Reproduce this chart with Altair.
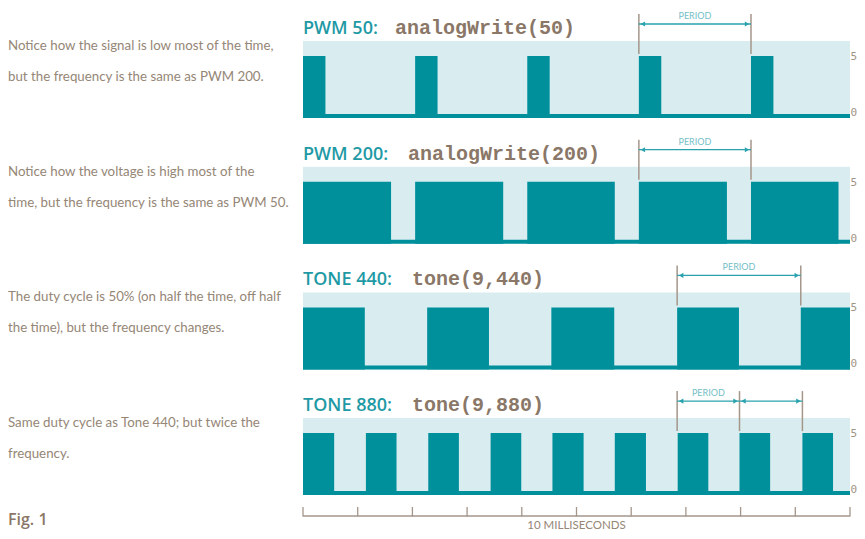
import altair as alt
import pandas as pd

# ---------------- data ----------------
LABELS = ["PWM 50:", "PWM 200:", "TONE 440:", "TONE 880:"]
CODES = ["analogWrite(50)", "analogWrite(200)", "tone(9,440)", "tone(9,880)"]
NOTES = [
    ["Notice how the signal is low most of the time,", "but the frequency is the same as PWM 200."],
    ["Notice how the voltage is high most of the", "time, but the frequency is the same as PWM 50."],
    ["The duty cycle is 50% (on half the time, off half", "the time), but the frequency changes."],
    ["Same duty cycle as Tone 440; but twice the", "frequency."],
]
# rising / falling edges of each square wave, in milliseconds
RISE_MS = [
    [0.00, 2.05, 4.10, 6.14, 8.19],
    [0.00, 2.05, 4.10, 6.14, 8.19],
    [0.00, 2.27, 4.54, 6.84, 9.10],
    [0.00, 1.15, 2.29, 3.43, 4.56, 5.70, 6.85, 7.98, 9.13],
]
FALL_MS = [
    [0.41, 2.46, 4.51, 6.55, 8.60],
    [1.61, 3.66, 5.70, 7.75, 9.79],
    [1.13, 3.40, 5.69, 7.97, 10.0],
    [0.57, 1.71, 2.85, 3.99, 5.13, 6.27, 7.41, 8.54, 9.69],
]
START_MS = 0.0
END_MS = 10.0
HIGH_V = 5
LOW_V = 0
PERIOD_MARKS_MS = [[6.14, 8.19], [6.14, 8.19], [6.84, 9.10], [6.84, 7.98, 9.13]]
PERIOD_TEXT = "PERIOD"
Y_TICK_LABELS = [("5", 5), ("0", 0)]
X_TICKS_MS = [0, 1, 2, 3, 4, 5, 6, 7, 8, 9, 10]
X_TITLE = "10 MILLISECONDS"
FIG_LABEL = "Fig. 1"

# ---------------- layout ----------------
W, H = 849, 523
X0_PX = 295.0          # plot x of t = 0 ms
PX_PER_MS = 54.7
PX_PER_V = 11.6
ZERO0_PX = 106.0       # plot y of 0 V in first panel
STEP_PX = 125.7        # vertical distance between panels
STEP_V = STEP_PX / PX_PER_V
BASE_PX = -4           # bottom of band / thick baseline below 0 V

def u(p, px_above_zero):
    return px_above_zero / PX_PER_V - p * STEP_V

x_scale = alt.Scale(domain=[-X0_PX / PX_PER_MS, (W - X0_PX) / PX_PER_MS], nice=False, zero=False)
y_scale = alt.Scale(domain=[(ZERO0_PX - H) / PX_PER_V, ZERO0_PX / PX_PER_V], nice=False, zero=False)

TEAL = "#00909c"
BAND = "#d9edf0"
BROWN = "#8a7767"
NOTE_C = "#958676"
TITLE_TEAL = "#1f9aa5"
RULE_C = "#a5968a"
ARROW_C = "#2aa2ad"
PERIOD_C = "#74c0c8"

def X(f):
    return alt.X(f, scale=x_scale, axis=None)

def Y(f):
    return alt.Y(f, scale=y_scale, axis=None)

# background bands
band_df = pd.DataFrame([
    {"p": p, "t0": START_MS, "t1": END_MS, "top": u(p, 73), "bot": u(p, BASE_PX)} for p in range(4)
])
bands = alt.Chart(band_df).mark_rect(color=BAND).encode(x=X("t0:Q"), x2="t1:Q", y=Y("top:Q"), y2="bot:Q")

# low level (thick baseline)
low_df = pd.DataFrame([
    {"p": p, "t0": START_MS, "t1": END_MS, "top": u(p, LOW_V * PX_PER_V), "bot": u(p, BASE_PX)} for p in range(4)
])
lows = alt.Chart(low_df).mark_rect(color=TEAL).encode(x=X("t0:Q"), x2="t1:Q", y=Y("top:Q"), y2="bot:Q")

# high pulses
pulse_rows = []
for p in range(4):
    for r, f in zip(RISE_MS[p], FALL_MS[p]):
        pulse_rows.append({"p": p, "t0": r, "t1": f, "top": u(p, HIGH_V * PX_PER_V), "bot": u(p, BASE_PX)})
pulse_df = pd.DataFrame(pulse_rows)
pulses = alt.Chart(pulse_df).mark_rect(color=TEAL).encode(x=X("t0:Q"), x2="t1:Q", y=Y("top:Q"), y2="bot:Q")

# period markers
mk_rows, ar_rows, pt_rows = [], [], []
for p in range(4):
    m = PERIOD_MARKS_MS[p]
    for t in m:
        mk_rows.append({"t": t, "y0": u(p, 60), "y1": u(p, 100)})
    for a, b in zip(m[:-1], m[1:]):
        ar_rows.append({"t0": a, "t1": b, "y": u(p, 90)})
    pt_rows.append({"t": (m[0] + m[1]) / 2, "y": u(p, 98), "txt": PERIOD_TEXT})
mk_df, ar_df, pt_df = pd.DataFrame(mk_rows), pd.DataFrame(ar_rows), pd.DataFrame(pt_rows)

marks = alt.Chart(mk_df).mark_rule(color=RULE_C, strokeWidth=1.5).encode(x=X("t:Q"), y=Y("y0:Q"), y2="y1:Q")
arrows = alt.Chart(ar_df).mark_rule(color=ARROW_C, strokeWidth=1.3).encode(x=X("t0:Q"), x2="t1:Q", y=Y("y:Q"))
heads_l = alt.Chart(ar_df).mark_point(shape="triangle-left", filled=True, size=26, color=ARROW_C,
                                      opacity=1, xOffset=4).encode(x=X("t0:Q"), y=Y("y:Q"))
heads_r = alt.Chart(ar_df).mark_point(shape="triangle-right", filled=True, size=26, color=ARROW_C,
                                      opacity=1, xOffset=-4).encode(x=X("t1:Q"), y=Y("y:Q"))
period_txt = alt.Chart(pt_df).mark_text(color=PERIOD_C, fontSize=9, font="Lato", baseline="middle").encode(
    x=X("t:Q"), y=Y("y:Q"), text="txt:N")

# titles
CODE_X_PX = [387, 400, 404, 404]
title_df = pd.DataFrame([{"p": p, "lab": LABELS[p], "code": CODES[p], "y": u(p, 80),
                          "cx": (CODE_X_PX[p] - X0_PX) / PX_PER_MS, "t": START_MS} for p in range(4)])
t_lab = alt.Chart(title_df).mark_text(color=TITLE_TEAL, fontSize=18, font="Open Sans", fontWeight=600,
                                      align="left", baseline="alphabetic").encode(
    x=X("t:Q"), y=Y("y:Q"), text="lab:N")
t_code = alt.Chart(title_df).mark_text(color=BROWN, fontSize=20, font="Liberation Mono", fontWeight="bold",
                                       align="left", baseline="alphabetic").encode(
    x=X("cx:Q"), y=Y("y:Q"), text="code:N")

# notes
note_df = pd.DataFrame([{"txt": NOTES[p][i], "y": u(p, [68, 37][i])}
                        for p in range(4) for i in range(len(NOTES[p]))])
notes = alt.Chart(note_df).mark_text(color=NOTE_C, fontSize=13.3, font="Lato",
                                     align="left", baseline="middle").encode(
    x=alt.value(0), y=Y("y:Q"), text="txt:N")

# right labels
yl_df = pd.DataFrame([{"txt": s, "y": u(p, v * PX_PER_V + (-1 if v == 5 else 1))}
                      for p in range(4) for s, v in Y_TICK_LABELS])
ylabels = alt.Chart(yl_df).mark_text(color="#a09484", fontSize=11, font="DejaVu Sans Mono", align="right",
                                     baseline="middle").encode(
    x=alt.value(W), y=Y("y:Q"), text="txt:N")

# bottom axis
AX_Y = 508
tick_df = pd.DataFrame({"t": X_TICKS_MS})
ax_line = alt.Chart(pd.DataFrame({"t0": [X_TICKS_MS[0]], "t1": [X_TICKS_MS[-1]]})).mark_rule(
    color=RULE_C, strokeWidth=1.6).encode(x=X("t0:Q"), x2="t1:Q", y=alt.value(AX_Y))
ax_ticks = alt.Chart(tick_df).mark_rule(color=RULE_C, strokeWidth=1.3).encode(
    x=X("t:Q"), y=alt.value(AX_Y + 0.5), y2=alt.value(AX_Y - 9))
ax_title = alt.Chart(pd.DataFrame({"t": [END_MS / 2], "txt": [X_TITLE]})).mark_text(
    color=NOTE_C, fontSize=11.5, font="Lato", baseline="alphabetic").encode(
    x=X("t:Q"), y=alt.value(521), text="txt:N")
fig = alt.Chart(pd.DataFrame({"txt": [FIG_LABEL]})).mark_text(
    color=BROWN, fontSize=16, font="Open Sans", fontWeight=600, align="left", baseline="alphabetic").encode(
    x=alt.value(0), y=alt.value(517), text="txt:N")

chart = alt.layer(bands, lows, pulses, marks, arrows, heads_l, heads_r, period_txt, t_lab, t_code, notes,
                  ylabels, ax_line, ax_ticks, ax_title, fig).properties(
    width=W, height=H, padding=0, autosize=alt.AutoSizeParams(type="none"), background="white"
).configure_view(stroke=None)

chart.save("out.html", embed_options={"renderer": "svg", "actions": False})
